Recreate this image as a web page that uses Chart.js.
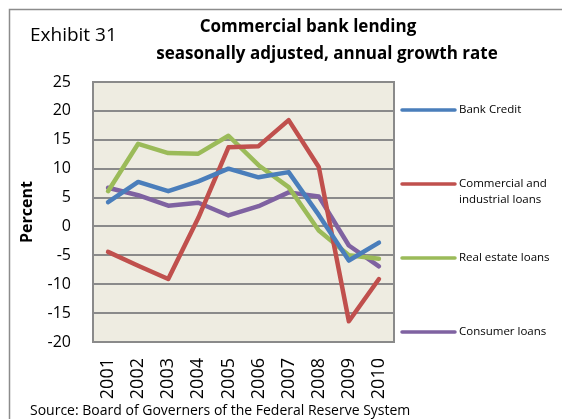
<!DOCTYPE html>
<html>
<head>
<meta charset="utf-8">
<script src="https://cdn.jsdelivr.net/npm/chart.js@4.4.1/dist/chart.umd.min.js"></script>
<style>
  html, body { margin: 0; padding: 0; background: #fff; }
  #wrap { width: 562px; height: 419px; position: relative; }
</style>
</head>
<body>
<div id="wrap"><canvas id="lendingChart"></canvas></div>
<script>
  const years = ['2001', '2002', '2003', '2004', '2005', '2006', '2007', '2008', '2009', '2010'];
  const bankCredit = [4.2, 7.7, 6.1, 7.8, 10.0, 8.5, 9.4, 2.0, -5.9, -2.8];
  const commercialIndustrial = [-4.4, -6.8, -9.1, 1.5, 13.7, 13.9, 18.4, 10.3, -16.4, -9.1];
  const realEstate = [6.1, 14.3, 12.7, 12.6, 15.7, 10.6, 6.8, -0.7, -5.0, -5.6];
  const consumer = [6.7, 5.4, 3.6, 4.1, 1.9, 3.5, 5.9, 5.2, -3.3, -6.9];
  const seriesNames = [['Bank Credit'], ['Commercial and', 'industrial loans'], ['Real estate loans'], ['Consumer loans']];

  const FONT = "'Open Sans', 'DejaVu Sans', sans-serif";

  // plot background, frame, titles, legend and source note
  const decor = {
    id: 'decor',
    beforeDraw(chart) {
      const { ctx, chartArea: a } = chart;
      ctx.save();
      ctx.fillStyle = '#EEECE1';
      ctx.fillRect(a.left, a.top, a.right - a.left, a.bottom - a.top);
      ctx.strokeStyle = '#8a8a8a';
      ctx.lineWidth = 2;
      ctx.strokeRect(a.left, a.top, a.right - a.left, a.bottom - a.top);
      // outer frame
      ctx.lineWidth = 1.5;
      ctx.strokeStyle = '#8c8c8c';
      ctx.beginPath();
      ctx.moveTo(9.5, 419);
      ctx.lineTo(9.5, 9.5);
      ctx.lineTo(562, 9.5);
      ctx.stroke();
      ctx.restore();
    },
    afterDraw(chart) {
      const { ctx } = chart;
      ctx.save();
      ctx.fillStyle = '#000';
      ctx.textBaseline = 'middle';

      ctx.textAlign = 'left';
      ctx.font = '19px ' + FONT;
      ctx.fillText('Exhibit 31', 30, 36);

      ctx.textAlign = 'center';
      ctx.font = 'bold 17px ' + FONT;
      ctx.fillText('Commercial bank lending', 308, 27);
      ctx.fillText('seasonally adjusted, annual growth rate', 327, 54);

      // legend
      ctx.font = '11.5px ' + FONT;
      ctx.textAlign = 'left';
      chart.data.datasets.forEach((ds, i) => {
        const y = 110 + i * 74;
        ctx.strokeStyle = ds.borderColor;
        ctx.lineWidth = 3.5;
        ctx.lineCap = 'round';
        ctx.beginPath();
        ctx.moveTo(402, y);
        ctx.lineTo(455, y);
        ctx.stroke();
        seriesNames[i].forEach((t, j) => ctx.fillText(t, 459, y + j * 16));
      });

      ctx.font = '14px ' + FONT;
      ctx.fillText('Source: Board of Governers of the Federal Reserve System', 30, 411);
      ctx.restore();
    }
  };

  const line = (data, color) => ({
    data,
    borderColor: color,
    backgroundColor: color,
    borderWidth: 4.5,
    borderCapStyle: 'round',
    borderJoinStyle: 'round',
    pointRadius: 0,
    tension: 0,
    fill: false
  });

  new Chart(document.getElementById('lendingChart'), {
    type: 'line',
    data: {
      labels: years,
      datasets: [
        line(bankCredit, '#4A7EBB'),
        line(commercialIndustrial, '#C0504D'),
        line(realEstate, '#9BBB59'),
        line(consumer, '#7F62A1')
      ]
    },
    options: {
      responsive: true,
      maintainAspectRatio: false,
      animation: false,
      layout: { padding: { left: 0, top: 82, right: 168, bottom: 0 } },
      plugins: {
        legend: { display: false },
        tooltip: { enabled: false }
      },
      scales: {
        x: {
          offset: true,
          grid: { display: false },
          border: { display: false },
          ticks: {
            color: '#000',
            font: { family: FONT, size: 18 },
            minRotation: 90,
            maxRotation: 90,
            padding: 8
          },
          afterFit(scale) { scale.height = 77; }
        },
        y: {
          min: -20,
          max: 25,
          grid: { color: '#8a8a8a', lineWidth: 2, drawTicks: false },
          border: { display: false },
          ticks: {
            stepSize: 5,
            color: '#000',
            font: { family: FONT, size: 16 },
            padding: 22
          },
          title: {
            display: true,
            text: 'Percent',
            color: '#000',
            font: { family: FONT, size: 16, weight: 'bold' },
            padding: { top: 18, bottom: 0 }
          },
          afterFit(scale) { scale.width = 93; }
        }
      }
    },
    plugins: [decor]
  });
</script>
</body>
</html>
